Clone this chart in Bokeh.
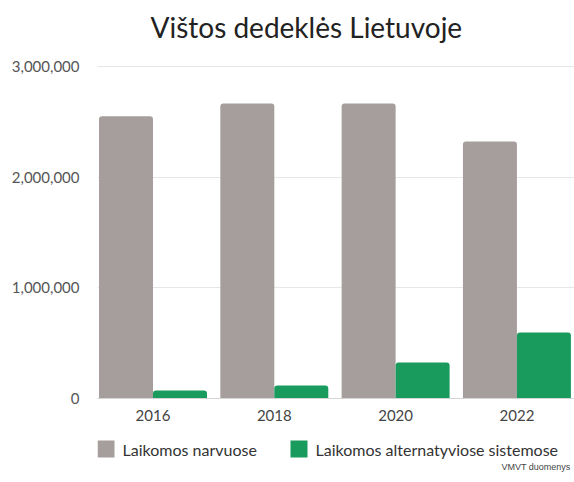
from bokeh.plotting import figure
from bokeh.models import ColumnDataSource, Range1d, FixedTicker, NumeralTickFormatter
from bokeh.layouts import column
from bokeh.core.properties import value
from bokeh.transform import dodge
from bokeh.embed import file_html
from bokeh.resources import INLINE

years = [2016, 2018, 2020, 2022]
cages = [2550000, 2665000, 2665000, 2322000]
alternative = [72000, 117000, 325000, 596000]
series_names = ["Laikomos narvuose", "Laikomos alternatyviose sistemose"]
y_ticks = [0, 1000000, 2000000, 3000000]
source_note = "VMVT duomenys"
title_text = "Vištos dedeklės Lietuvoje"

GREY = "#a69d9d"
GREEN = "#189b5c"
FONT = "Lato"


def strip(height):
    # text strip whose frame is aligned with the chart frame (x 97..574 px)
    f = figure(width=574, height=height, output_backend="svg", toolbar_location=None,
               x_range=Range1d(97, 574), y_range=Range1d(0, height),
               min_border_left=97, min_border_right=0, min_border_top=0, min_border_bottom=0,
               x_axis_type=None, y_axis_type=None)
    f.outline_line_color = None
    f.xgrid.grid_line_color = None
    f.ygrid.grid_line_color = None
    return f


# title strip
top = strip(58)
top.text(x=[150], y=[32], text=[title_text], text_font=value(FONT), text_font_size="28px",
         text_color="#222222", text_align="left", text_baseline="middle")

# main chart
src = ColumnDataSource(dict(year=years, cages=cages, alt=alternative))

p = figure(width=574, height=372, output_backend="svg", toolbar_location=None,
           x_range=Range1d(2015.085, 2022.949), y_range=Range1d(0, 3072000),
           min_border_left=97, min_border_right=0, min_border_top=0, min_border_bottom=32)
p.outline_line_color = None
p.background_fill_color = "white"

p.vbar(x=dodge("year", -0.445, range=p.x_range), top="cages", width=0.89, source=src,
       fill_color=GREY, line_color=None, border_radius=(3, 3, 0, 0))
p.vbar(x=dodge("year", 0.445, range=p.x_range), top="alt", width=0.89, source=src,
       fill_color=GREEN, line_color=None, border_radius=(3, 3, 0, 0))

p.xaxis.ticker = FixedTicker(ticks=years)
p.xaxis.major_tick_line_color = None
p.xaxis.minor_tick_line_color = None
p.xaxis.axis_line_color = "#d4d4d4"
p.xaxis.major_label_text_font = FONT
p.xaxis.major_label_text_font_size = "15px"
p.xaxis.major_label_text_color = "#444444"
p.xaxis.major_label_standoff = 5
p.xgrid.grid_line_color = None

p.yaxis.ticker = FixedTicker(ticks=y_ticks)
p.yaxis.formatter = NumeralTickFormatter(format="0,0")
p.yaxis.axis_line_color = None
p.yaxis.major_tick_line_color = None
p.yaxis.minor_tick_line_color = None
p.yaxis.major_label_text_font = FONT
p.yaxis.major_label_text_font_size = "15px"
p.yaxis.major_label_text_color = "#555555"
p.yaxis.major_label_standoff = 12
p.ygrid.grid_line_color = "#e6e6e6"

# legend strip below the chart
bot = strip(52)
swatch_left = [97, 290]
bot.quad(left=swatch_left, right=[s + 17 for s in swatch_left], bottom=25, top=42,
         fill_color=[GREY, GREEN], line_color=None)
bot.text(x=[s + 25 for s in swatch_left], y=33, text=series_names,
         text_font=value(FONT), text_font_size="16px", text_color="#333333",
         text_baseline="middle", text_align="left")
bot.text(x=[570], y=[16], text=[source_note], text_font=value("Liberation Sans"),
         text_font_size="9px", text_color="#444444", text_align="right", text_baseline="middle")

open("out.html", "w").write(file_html(column(top, p, bot, spacing=0), INLINE))
